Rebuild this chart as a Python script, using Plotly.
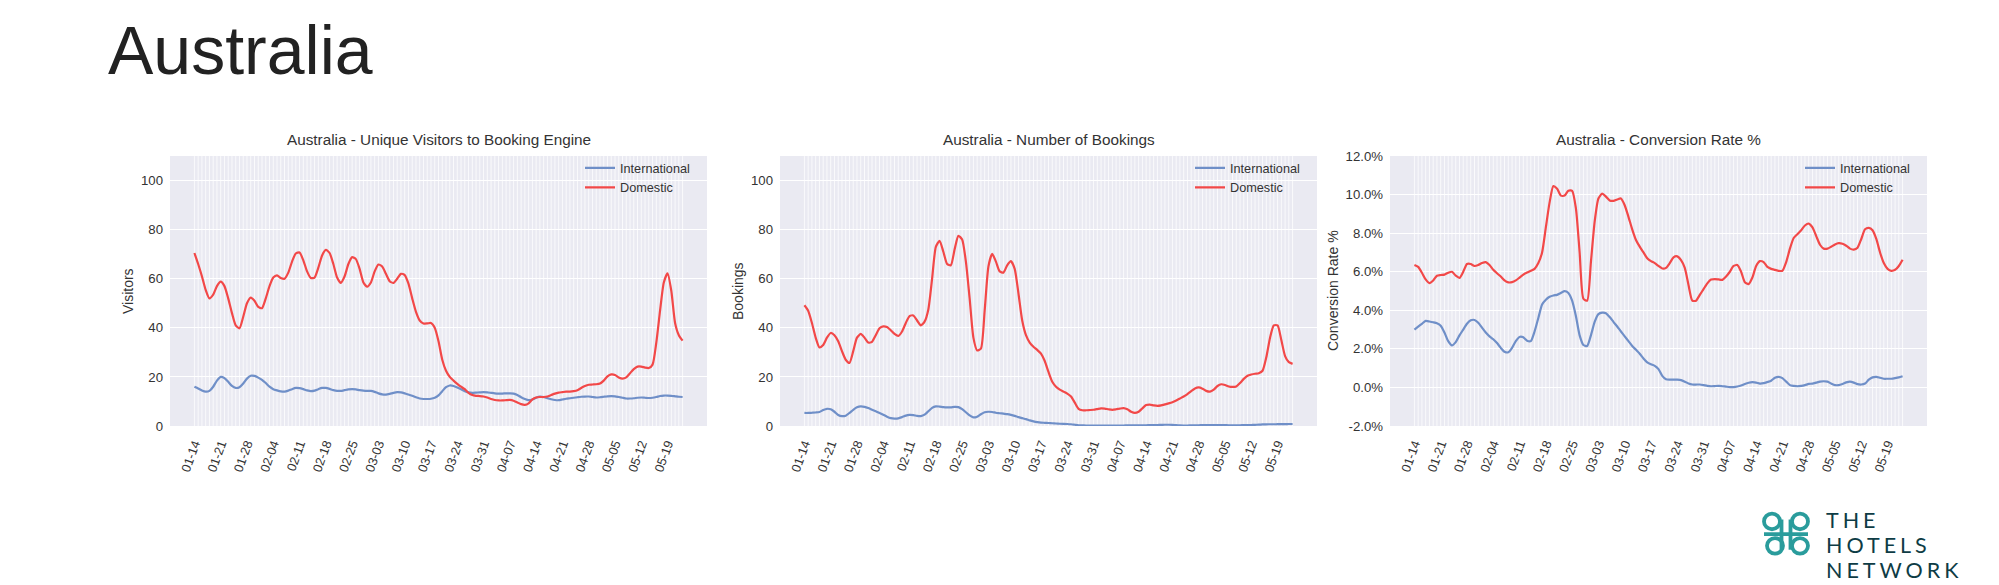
import pandas as pd
import plotly.graph_objects as go

# ---------------- data ----------------
START_DATE = "2020-01-14"
N_DAYS = 131
dates = pd.date_range(START_DATE, periods=N_DAYS, freq="D")

tick_dates = pd.date_range("2020-01-14", "2020-05-19", freq="7D")
tick_labels = [d.strftime("%m-%d") for d in tick_dates]

visitors_domestic = [
    70.5, 66, 61, 55.5, 52, 53.5, 57, 58.8, 57, 52, 46, 41, 39.8, 44.5, 50, 52.3, 51, 48.5, 48, 52,
    57, 60.5, 61.4, 60.3, 60, 62.5, 67, 70.3, 70.7, 67.5, 63, 60.3, 60.5, 64.5, 69.5, 71.8, 70.5, 66, 60.5, 58.3,
    61, 66, 68.8, 68, 64, 58.5, 56.8, 58.5, 63, 65.8, 65, 62, 59, 58.3, 60, 62, 61.5, 58, 52, 46.5,
    43, 41.8, 41.8, 42, 40, 34.5, 27, 22.5, 20, 18.5, 17.2, 16, 15, 13.5, 12.6, 12.3, 12.2, 12, 11.6, 11,
    10.6, 10.4, 10.4, 10.5, 10.6, 10.3, 9.6, 8.9, 8.6, 9.2, 10.8, 11.6, 11.8, 11.8, 12, 12.6, 13.2, 13.6, 13.8, 14,
    14, 14.2, 14.6, 15.5, 16.3, 16.8, 16.9, 17, 17.3, 18.5, 20.2, 21, 20.8, 19.8, 19.3, 19.8, 21.5, 23.2, 24.2, 24.2,
    23.8, 23.6, 25, 34, 47, 58.5, 62.2, 55, 42, 37, 34.8,
]
visitors_international = [
    16, 15.3, 14.5, 14, 14.3, 16, 18.5, 20, 19.5, 18, 16.3, 15.5, 15.8, 17.3, 19.3, 20.5, 20.4, 19.7, 18.8, 17.5,
    16, 15, 14.5, 14.1, 14, 14.4, 15, 15.5, 15.4, 15, 14.5, 14.2, 14.4, 15, 15.5, 15.5, 15.1, 14.6, 14.3, 14.3,
    14.6, 14.9, 15, 14.9, 14.6, 14.4, 14.3, 14.3, 13.9, 13.3, 12.9, 12.8, 13.1, 13.5, 13.8, 13.7, 13.3, 12.8, 12.3, 11.7,
    11.2, 11, 11, 11.1, 11.5, 12.5, 14.2, 15.8, 16.5, 16.3, 15.7, 15, 14.2, 13.7, 13.5, 13.6, 13.7, 13.8, 13.7, 13.5,
    13.3, 13.2, 13.2, 13.3, 13.3, 13.2, 12.6, 11.7, 11, 10.5, 10.8, 11.5, 12, 11.8, 11.3, 10.9, 10.6, 10.5, 10.8, 11.1,
    11.3, 11.5, 11.7, 11.9, 12, 12, 11.8, 11.6, 11.7, 11.9, 12.1, 12.2, 12.1, 11.8, 11.5, 11.2, 11.2, 11.3, 11.5, 11.6,
    11.5, 11.4, 11.5, 11.8, 12.2, 12.4, 12.4, 12.3, 12.1, 11.9, 11.8,
]
bookings_domestic = [
    49.2, 47, 42, 36, 32, 33, 36, 37.9, 37, 34.5, 30.5, 27, 25.7, 30.5, 36, 37.5, 36, 34, 34.3, 37,
    39.8, 40.6, 40.3, 39, 37.5, 36.7, 38.5, 42, 44.8, 45, 43, 41, 42.5, 47.5, 60, 73, 75.5, 71, 66, 65.5,
    72, 77.5, 76, 67, 52, 36, 30.8, 31.5, 47, 65, 70.2, 67, 63, 62.5, 65.5, 67.2, 64, 54, 43, 37,
    34, 32.3, 31, 29.5, 26.5, 22, 18, 16, 14.8, 14, 13.2, 12, 9.5, 7, 6.4, 6.4, 6.5, 6.6, 6.9, 7.2,
    7.1, 6.8, 6.6, 6.8, 7.1, 7.3, 6.8, 5.8, 5.3, 5.8, 7.2, 8.5, 8.7, 8.4, 8.2, 8.4, 8.8, 9.2, 9.7, 10.4,
    11.2, 12, 13, 14.2, 15.3, 15.7, 15.2, 14.3, 14, 14.8, 16.3, 17, 16.7, 16.1, 15.9, 16.1, 17.5, 19.2, 20.5, 21,
    21.3, 21.5, 22.5, 28, 36, 41, 41, 35, 28.5, 26, 25.3,
]
bookings_international = [
    5.3, 5.3, 5.4, 5.5, 5.7, 6.5, 7, 6.8, 5.8, 4.5, 4, 4.2, 5.3, 6.6, 7.6, 8, 7.8, 7.3, 6.6, 6,
    5.3, 4.6, 3.8, 3.2, 3, 3.1, 3.6, 4.2, 4.5, 4.4, 4.1, 4, 4.6, 6, 7.4, 8, 7.9, 7.7, 7.6, 7.6,
    7.8, 7.7, 6.9, 5.6, 4.3, 3.5, 3.8, 4.8, 5.6, 5.8, 5.7, 5.4, 5.2, 5, 4.8, 4.5, 4.1, 3.6, 3.2, 2.8,
    2.3, 1.9, 1.6, 1.4, 1.3, 1.2, 1.1, 1, 0.9, 0.85, 0.8, 0.7, 0.5, 0.3, 0.25, 0.2, 0.2, 0.2, 0.2, 0.2,
    0.2, 0.2, 0.2, 0.2, 0.2, 0.2, 0.22, 0.25, 0.28, 0.3, 0.3, 0.3, 0.32, 0.35, 0.4, 0.45, 0.5, 0.5, 0.45, 0.35,
    0.25, 0.2, 0.2, 0.22, 0.25, 0.3, 0.35, 0.4, 0.4, 0.4, 0.4, 0.38, 0.35, 0.3, 0.3, 0.3, 0.3, 0.32, 0.35, 0.4,
    0.45, 0.55, 0.62, 0.68, 0.7, 0.7, 0.72, 0.75, 0.78, 0.8, 0.8,
]
conversion_domestic = [
    6.35, 6.25, 5.95, 5.6, 5.41, 5.55, 5.79, 5.83, 5.85, 5.95, 6.0, 5.8, 5.68, 6.0, 6.4, 6.4, 6.3, 6.35, 6.45, 6.5,
    6.35, 6.1, 5.92, 5.75, 5.55, 5.45, 5.46, 5.55, 5.7, 5.85, 5.96, 6.05, 6.15, 6.45, 7.0, 8.3, 9.6, 10.44, 10.3, 9.95,
    9.95, 10.2, 10.2, 9.3, 7.0, 4.6, 4.5, 6.5, 8.6, 9.8, 10.05, 9.9, 9.7, 9.68, 9.75, 9.8, 9.45, 8.85, 8.2, 7.65,
    7.3, 7.0, 6.7, 6.55, 6.45, 6.3, 6.17, 6.2, 6.45, 6.75, 6.8, 6.6, 6.2, 5.3, 4.5, 4.5, 4.8, 5.1, 5.4, 5.6,
    5.62, 5.6, 5.58, 5.75, 6.0, 6.3, 6.35, 6.0, 5.45, 5.36, 5.7, 6.3, 6.55, 6.5, 6.25, 6.15, 6.1, 6.05, 6.05, 6.5,
    7.2, 7.75, 7.95, 8.15, 8.4, 8.5, 8.3, 7.85, 7.4, 7.2, 7.2, 7.3, 7.42, 7.48, 7.45, 7.35, 7.2, 7.15, 7.25, 7.7,
    8.2, 8.28, 8.15, 7.7, 7.0, 6.45, 6.15, 6.05, 6.1, 6.3, 6.62,
]
conversion_international = [
    3.0, 3.15, 3.3, 3.45, 3.42, 3.38, 3.33, 3.2, 2.85, 2.4, 2.18, 2.35, 2.7, 3.0, 3.3, 3.48, 3.5, 3.35, 3.1, 2.85,
    2.65, 2.5, 2.3, 2.05, 1.85, 1.82, 2.05, 2.4, 2.62, 2.6, 2.42, 2.4, 2.9, 3.6, 4.3, 4.55, 4.7, 4.77, 4.8, 4.9,
    4.99, 4.9, 4.5, 3.7, 2.7, 2.2, 2.15, 2.7, 3.4, 3.8, 3.88, 3.85, 3.65, 3.4, 3.16, 2.9, 2.65, 2.4, 2.15, 1.95,
    1.75, 1.5, 1.3, 1.2, 1.12, 0.95, 0.6, 0.42, 0.4, 0.4, 0.4, 0.38, 0.3, 0.2, 0.15, 0.15, 0.15, 0.12, 0.08, 0.06,
    0.07, 0.08, 0.06, 0.04, 0.02, 0.02, 0.05, 0.1, 0.18, 0.24, 0.27, 0.25, 0.2, 0.22, 0.28, 0.35, 0.5, 0.55, 0.48, 0.3,
    0.12, 0.08, 0.06, 0.08, 0.12, 0.18, 0.2, 0.25, 0.3, 0.32, 0.3, 0.2, 0.12, 0.12, 0.18, 0.26, 0.3, 0.25, 0.17, 0.15,
    0.2, 0.4, 0.52, 0.55, 0.5, 0.45, 0.45, 0.45, 0.48, 0.52, 0.58,
]

count_ticks = [0, 20, 40, 60, 80, 100]
conv_ticks = [-2, 0, 2, 4, 6, 8, 10, 12]
conv_tick_labels = ["-2.0%", "0.0%", "2.0%", "4.0%", "6.0%", "8.0%", "10.0%", "12.0%"]

panel_titles = [
    "Australia - Unique Visitors to Booking Engine",
    "Australia - Number of Bookings",
    "Australia - Conversion Rate %",
]
y_titles = ["Visitors", "Bookings", "Conversion Rate %"]
series_names = ["International", "Domestic"]

# ---------------- style / layout ----------------
W, H = 1999, 585
C_INT = "#6F8FC8"
C_DOM = "#F24848"
BG = "#EAEAF2"
TXT = "#333333"
FONT = "Liberation Sans, Arial, sans-serif"

def px(x):
    return x / W

def py(y):
    return 1 - y / H

PLOT_LEFT = [170, 780, 1390]
PLOT_W = 537
PLOT_TOP, PLOT_BOTTOM = 153, 430
YTITLE_OFFSET = [42, 42, 57]

pad = pd.Timedelta(days=6.5)
x_range = [dates[0] - pad, dates[-1] + pad]

fig = go.Figure()

panels = [
    (visitors_international, visitors_domestic, [0, 110], count_ticks, [str(v) for v in count_ticks]),
    (bookings_international, bookings_domestic, [0, 110], count_ticks, [str(v) for v in count_ticks]),
    (conversion_international, conversion_domestic, [-2, 12], conv_ticks, conv_tick_labels),
]

shapes = []
annotations = []
for i, (s_int, s_dom, yr, yt, ytt) in enumerate(panels):
    k = "" if i == 0 else str(i + 1)
    xa, ya = "x" + k, "y" + k
    leg = "legend" + k
    for name, vals, col in ((series_names[0], s_int, C_INT), (series_names[1], s_dom, C_DOM)):
        fig.add_trace(go.Scatter(
            x=dates, y=vals, mode="lines", name=name,
            line=dict(color=col, width=2.2, shape="spline", smoothing=0.6),
            xaxis=xa, yaxis=ya, legend=leg,
        ))
    x0, x1 = PLOT_LEFT[i], PLOT_LEFT[i] + PLOT_W
    fig.update_layout(**{
        "xaxis" + k: dict(
            domain=[px(x0), px(x1)], anchor=ya, range=x_range, type="date",
            tickmode="array", tickvals=list(tick_dates), ticktext=tick_labels,
            tickangle=-70, showgrid=False, zeroline=False, showline=False,
            ticks="", tickfont=dict(size=12.7, color=TXT, family=FONT),
            ticklabelstandoff=7,
        ),
        "yaxis" + k: dict(
            domain=[py(PLOT_BOTTOM), py(PLOT_TOP)], anchor=xa, range=yr,
            tickmode="array", tickvals=yt, ticktext=ytt,
            showgrid=True, gridcolor="white", gridwidth=1.4, zeroline=False,
            showline=False, ticks="", tickfont=dict(size=13.2, color=TXT, family=FONT),
            ticklabelstandoff=6,
        ),
        leg: dict(
            x=px(x0 + 410), y=py(PLOT_TOP - 3), xanchor="left", yanchor="top",
            bgcolor="rgba(0,0,0,0)", font=dict(size=12.7, color=TXT, family=FONT),
            itemwidth=30, tracegroupgap=0,
        ),
    })
    shapes.append(dict(type="rect", xref="paper", yref="paper",
                       x0=px(x0), x1=px(x1), y0=py(PLOT_BOTTOM), y1=py(PLOT_TOP),
                       fillcolor=BG, line=dict(width=0), layer="below"))
    for d in dates:
        shapes.append(dict(type="line", xref=xa, yref=ya + " domain",
                           x0=d, x1=d, y0=0, y1=1,
                           line=dict(color="rgba(255,255,255,0.75)", width=1), layer="below"))
    annotations.append(dict(text=panel_titles[i], xref="paper", yref="paper",
                            x=px(x0 + PLOT_W / 2), y=py(136), xanchor="center", yanchor="middle",
                            showarrow=False, font=dict(size=15.3, color=TXT, family=FONT)))
    annotations.append(dict(text=y_titles[i], xref="paper", yref="paper",
                            x=px(x0 - YTITLE_OFFSET[i]), y=py((PLOT_TOP + PLOT_BOTTOM) / 2),
                            xanchor="center", yanchor="middle", textangle=-90,
                            showarrow=False, font=dict(size=14, color=TXT, family=FONT)))

annotations.append(dict(text="Australia", xref="paper", yref="paper", x=px(106), y=py(44),
                        xanchor="left", yanchor="middle", showarrow=False,
                        font=dict(size=68, color="#222222", family=FONT)))

LOGO_TEXT = "#0E3C45"
LOGO_TEAL = "#2A9C9C"
for j, word in enumerate(["THE", "HOTELS", "NETWORK"]):
    annotations.append(dict(text='<span style="letter-spacing:4px">' + word + "</span>",
                            xref="paper", yref="paper", x=px(1824), y=py(526 + 26 * j),
                            xanchor="left", yanchor="middle", showarrow=False,
                            font=dict(size=21.5, color=LOGO_TEXT, family="Lato, Noto Sans, sans-serif")))

lw = 3.8
for cx, cy in ((1772, 528), (1800, 528), (1775, 553), (1800, 553)):
    r = 8
    shapes.append(dict(type="circle", xref="paper", yref="paper",
                       x0=px(cx - r), x1=px(cx + r), y0=py(cy + r), y1=py(cy - r),
                       line=dict(color=LOGO_TEAL, width=lw), fillcolor="rgba(0,0,0,0)"))
for sx in (1781.5, 1790.5):
    shapes.append(dict(type="line", xref="paper", yref="paper",
                       x0=px(sx), x1=px(sx), y0=py(526), y1=py(557),
                       line=dict(color=LOGO_TEAL, width=lw)))
shapes.append(dict(type="line", xref="paper", yref="paper",
                   x0=px(1764), x1=px(1808), y0=py(541), y1=py(541),
                   line=dict(color=LOGO_TEAL, width=lw)))

fig.update_layout(
    width=W, height=H, margin=dict(l=0, r=0, t=0, b=0),
    paper_bgcolor="white", plot_bgcolor="rgba(0,0,0,0)",
    font=dict(family=FONT, color=TXT),
    shapes=shapes, annotations=annotations,
)

fig.write_html("out.html")
